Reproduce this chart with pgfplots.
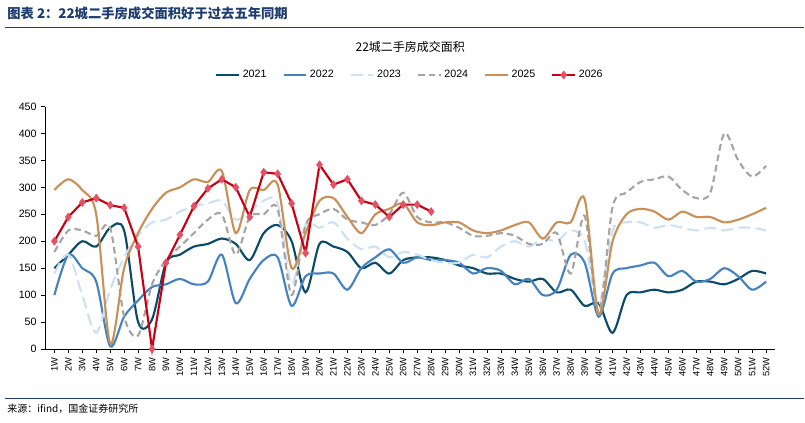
\documentclass[border=0pt]{standalone}
\usepackage{pgfplots}
\pgfplotsset{compat=1.18}
\usepackage{fontspec}
\setmainfont{Liberation Sans}
\newfontfamily\cjk{Noto Sans CJK SC}
\definecolor{c21}{RGB}{10,75,105}
\definecolor{c22}{RGB}{70,130,190}
\definecolor{c23}{RGB}{205,225,242}
\definecolor{c24}{RGB}{165,165,165}
\definecolor{c25}{RGB}{200,145,90}
\definecolor{c26}{RGB}{200,0,20}
\definecolor{m26}{RGB}{230,80,100}
\definecolor{hd}{RGB}{30,60,110}
\begin{document}
\begin{tikzpicture}
\path (-34pt,-55.5pt) rectangle (570pt,262pt);
\begin{axis}[at={(0,0)},anchor=origin,scale only axis,width=548pt,height=182pt,
 xmin=0.35,xmax=52.65,ymin=0,ymax=450,ytick={0,50,...,450},
 axis x line*=bottom, axis y line*=left, axis line style={black},
 xtick={1,...,52}, xticklabel={\pgfmathprintnumber{\tick}W}, xticklabel style={rotate=90,anchor=east,font=\fontsize{7}{8}\selectfont},
 yticklabel style={font=\fontsize{8}{9}\selectfont}, /pgf/number format/assume math mode=true,
 tick style={black}, tick align=outside, major tick length=3pt,
 legend style={at={(0.5,1.13)},anchor=center,draw=none,font=\fontsize{8}{9}\selectfont,/tikz/every even column/.append style={column sep=10pt}},
 legend columns=6, every axis plot/.append style={line width=1.6pt},
 clip=false]
\addplot[c21,smooth,tension=0.5] coordinates {(1,150)(2,175)(3,200)(4,190)(5,225)(6,220)(7,50)(8,55)(9,160)(10,175)(11,190)(12,195)(13,205)(14,195)(15,165)(16,215)(17,230)(18,200)(19,105)(20,195)(21,190)(22,180)(23,150)(24,160)(25,140)(26,165)(27,170)(28,170)(29,165)(30,155)(31,150)(32,140)(33,140)(34,130)(35,125)(36,130)(37,105)(38,110)(39,80)(40,85)(41,30)(42,100)(43,105)(44,110)(45,105)(46,110)(47,125)(48,125)(49,120)(50,130)(51,145)(52,140)};
\addlegendentry{2021}
\addplot[c22,smooth,tension=0.5] coordinates {(1,100)(2,175)(3,150)(4,125)(5,5)(6,60)(7,90)(8,115)(9,120)(10,130)(11,120)(12,125)(13,175)(14,85)(15,130)(16,165)(17,170)(18,80)(19,135)(20,140)(21,140)(22,110)(23,150)(24,170)(25,185)(26,160)(27,170)(28,165)(29,165)(30,160)(31,140)(32,150)(33,145)(34,120)(35,130)(36,100)(37,110)(38,175)(39,160)(40,60)(41,140)(42,150)(43,155)(44,160)(45,135)(46,145)(47,125)(48,130)(49,150)(50,135)(51,110)(52,125)};
\addlegendentry{2022}
\addplot[c23,smooth,tension=0.5,dash pattern=on 9pt off 4pt] coordinates {(1,140)(2,175)(3,100)(4,30)(5,110)(6,170)(7,210)(8,235)(9,240)(10,255)(11,265)(12,270)(13,275)(14,240)(15,255)(16,275)(17,270)(18,120)(19,230)(20,225)(21,235)(22,205)(23,185)(24,190)(25,170)(26,180)(27,175)(28,165)(29,160)(30,160)(31,175)(32,170)(33,190)(34,200)(35,190)(36,205)(37,200)(38,220)(39,200)(40,80)(41,220)(42,235)(43,235)(44,225)(45,230)(46,225)(47,220)(48,225)(49,220)(50,225)(51,225)(52,220)};
\addlegendentry{2023}
\addplot[c24,smooth,tension=0.5,dash pattern=on 5pt off 3pt] coordinates {(1,180)(2,220)(3,220)(4,210)(5,225)(6,60)(7,25)(8,120)(9,165)(10,190)(11,215)(12,240)(13,250)(14,175)(15,245)(16,250)(17,260)(18,100)(19,230)(20,250)(21,260)(22,240)(23,235)(24,230)(25,250)(26,290)(27,245)(28,235)(29,235)(30,225)(31,210)(32,210)(33,215)(34,210)(35,195)(36,195)(37,215)(38,140)(39,247)(40,65)(41,264)(42,290)(43,310)(44,315)(45,320)(46,295)(47,280)(48,290)(49,400)(50,350)(51,320)(52,340)};
\addlegendentry{2024}
\addplot[c25,smooth,tension=0.5] coordinates {(1,295)(2,315)(3,295)(4,250)(5,10)(6,150)(7,215)(8,260)(9,290)(10,300)(11,315)(12,310)(13,330)(14,215)(15,295)(16,295)(17,305)(18,150)(19,215)(20,275)(21,280)(22,245)(23,215)(24,250)(25,260)(26,270)(27,235)(28,230)(29,235)(30,235)(31,220)(32,215)(33,220)(34,230)(35,235)(36,205)(37,235)(38,235)(39,278)(40,65)(41,200)(42,250)(43,260)(44,255)(45,240)(46,255)(47,245)(48,245)(49,235)(50,240)(51,250)(52,262)};
\addlegendentry{2025}
\addplot[c26,mark=diamond*,mark size=3pt,mark options={fill=m26,draw=m26,line width=0.4pt}] coordinates {(1,200)(2,245)(3,272)(4,280)(5,267)(6,262)(7,190)(8,0)(9,160)(10,212)(11,265)(12,298)(13,315)(14,300)(15,245)(16,328)(17,325)(18,270)(19,178)(20,342)(21,305)(22,315)(23,275)(24,268)(25,245)(26,268)(27,268)(28,255)};
\addlegendentry{2026}
\end{axis}
\node[font=\cjk\fontsize{9}{11}\selectfont] at (274pt,227pt) {22城二手房成交面积};
\node[anchor=west,font=\cjk\bfseries\itshape\fontsize{10}{12}\selectfont,text=hd] at (-32pt,252pt) {图表 2：22城二手房成交面积好于过去五年同期};
\draw[hd,line width=0.8pt] (-30pt,241pt) -- (570pt,241pt);
\draw[hd,line width=0.6pt] (-30pt,-37pt) -- (570pt,-37pt);
\node[anchor=west,font=\cjk\fontsize{7.5}{9}\selectfont] at (-32pt,-45pt) {来源：ifind，国金证券研究所};
\end{tikzpicture}
\end{document}
